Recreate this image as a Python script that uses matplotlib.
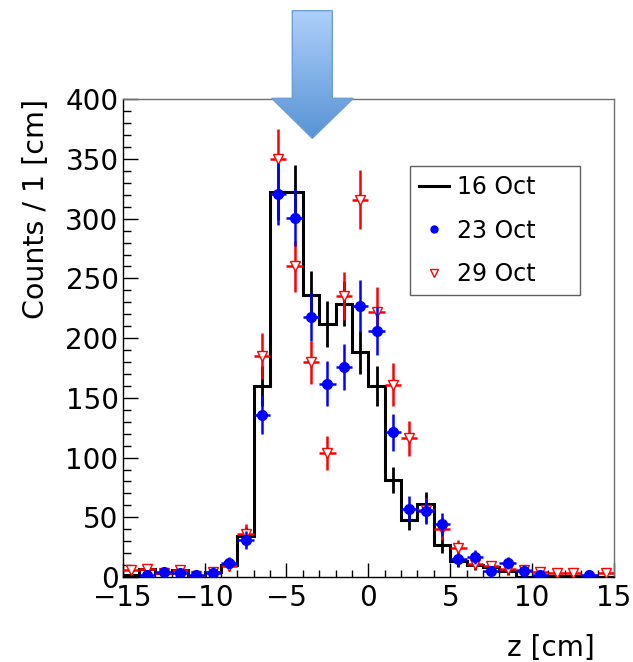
import numpy as np
import matplotlib
matplotlib.use('Agg')
import matplotlib.pyplot as plt
from matplotlib.lines import Line2D
from matplotlib.patches import Polygon
from matplotlib.ticker import MultipleLocator

plt.rcParams['font.family'] = ['DejaVu Sans']

# binning: 1 cm bins from -15 to 15
edges = np.arange(-15, 16, 1)
centers = edges[:-1] + 0.5

# 16 Oct (histogram with errors)
oct16 = [2, 7, 3, 6, 1, 4, 10, 34, 160, 322, 322, 236, 212, 229, 188,
         160, 81, 48, 61, 27, 13, 10, 8, 5, 0, 0, 1, 1, 0, 0]
oct16_err = [2, 4, 3, 3, 1, 3, 4, 8, 17, 23, 23, 20, 19, 19, 18,
             17, 11, 8.5, 10, 7, 5, 4, 4, 3, 0, 0, 1, 1, 0, 0]

# 23 Oct
nan = np.nan
oct23 = [nan, 1.5, 4.5, 3, 2, 3, 12, 31, 136, 321, 301, 218, 162, 176, 227,
         206, 121, 57, 55, 44, 15, 17, 5, 12, 5, 2, nan, nan, 2, nan]
oct23_err = [nan, 1.5, 2.5, 2, 1.5, 2, 4.5, 7.5, 16, 26, 24, 20, 18.5, 19.5, 22,
             20, 15.5, 10.5, 10.5, 9.5, 5.5, 6, 3, 5, 3, 2, nan, nan, 1.5, nan]

# 29 Oct
oct29 = [6, 7, 3, 6, 1, 4.5, 9, 36, 185, 350, 260, 180, 104, 235, 316,
         222, 161, 116, 56, 40, 24, 11, 9, 7, 6, 4.5, 3, 3, nan, 3]
oct29_err = [2.5, 3, 2, 3, 1.2, 2.5, 4, 8, 19, 25, 21, 18, 14, 20, 24.5,
             20.5, 18, 15, 10.5, 9, 7, 4.5, 4, 3.5, 3, 2.5, 2, 2, nan, 2]

labels = ['16 Oct', '23 Oct', '29 Oct']

W, H = 633, 662
fig = plt.figure(figsize=(W / 100, H / 100), dpi=100)
ax = fig.add_axes([122.7 / W, 1 - 577 / H, 491.3 / W, 477.7 / H])

ax.stairs(oct16, edges, color='black', lw=2.2, zorder=2)
ax.errorbar(centers, oct16, yerr=oct16_err, fmt='none', ecolor='black',
            elinewidth=2, zorder=2)
ax.errorbar(centers, oct29, xerr=0.5, yerr=oct29_err, fmt='v', color='red',
            mfc='white', mec='red', ms=7, mew=1, elinewidth=1.8, capsize=0,
            zorder=3)
ax.errorbar(centers, oct23, xerr=0.5, yerr=oct23_err, fmt='o', color='blue',
            ms=7, elinewidth=1.8, capsize=0, zorder=4)

ax.set_xlim(-15, 15)
ax.set_ylim(0, 400)
ax.xaxis.set_major_locator(MultipleLocator(5))
ax.xaxis.set_minor_locator(MultipleLocator(1))
ax.yaxis.set_major_locator(MultipleLocator(50))
ax.yaxis.set_minor_locator(MultipleLocator(10))
ax.tick_params(which='both', direction='in', top=False, right=False,
               labelsize=20, width=1)
ax.tick_params(axis='x', which='major', length=10, pad=5)
ax.tick_params(axis='x', which='minor', length=5)
ax.tick_params(axis='y', which='major', length=11, pad=3)
ax.tick_params(axis='y', which='minor', length=5.5)
for s in ['top', 'right']:
    ax.spines[s].set_color('#707070')
for s in ax.spines.values():
    s.set_linewidth(1)

ax.set_xlabel('z [cm]', fontsize=20, ha='right', va='center')
ax.xaxis.set_label_coords(0.961, -0.149)
ax.set_ylabel('Counts / 1 [cm]', fontsize=20.5, ha='right', va='center')
ax.yaxis.set_label_coords(-0.1765, 1.0)

handles = [
    Line2D([], [], color='black', lw=2.2),
    Line2D([], [], color='blue', marker='o', ls='none', ms=5),
    Line2D([], [], color='red', marker='v', ls='none', ms=6, mfc='white', mew=1),
]
leg = ax.legend(handles, labels, loc='upper left',
                bbox_to_anchor=(0.585, 0.584, 0.346, 0.276), mode='expand',
                fontsize=17, frameon=True, fancybox=False, framealpha=1,
                edgecolor='#606060', handlelength=1.25, handletextpad=0.35,
                labelspacing=0.82, borderpad=0.38, borderaxespad=0)
leg.get_frame().set_linewidth(1)

# blue arrow above the plot
ov = fig.add_axes([0, 0, 1, 1], facecolor='none', zorder=10)
ov.axis('off')
arrow_xy = [(292.3, 10.7), (332.3, 10.7), (332.3, 98.3), (353.3, 98.3),
            (312.3, 138.3), (271.7, 98.3), (292.3, 98.3)]
grad = np.linspace(0, 1, 256).reshape(-1, 1)
cmap = matplotlib.colors.LinearSegmentedColormap.from_list(
    'arr', ['#aed0fb', '#5893d4'])
img = ov.imshow(grad, cmap=cmap, extent=(271, 354, 139, 10), aspect='auto',
                interpolation='bilinear')
poly = Polygon(arrow_xy, closed=True, facecolor='none', edgecolor='#6d9fd6',
               lw=1)
ov.add_patch(poly)
img.set_clip_path(poly)
ov.set_xlim(0, W)
ov.set_ylim(H, 0)

fig.savefig('out.png', dpi=100)
